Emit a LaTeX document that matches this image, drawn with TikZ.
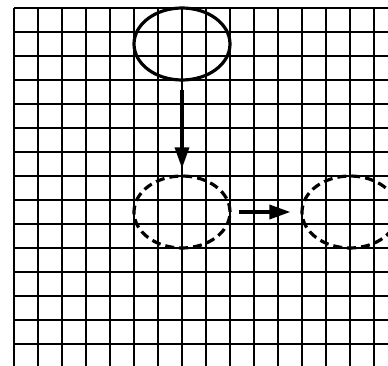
\documentclass[tikz,border=0pt]{standalone}
\usetikzlibrary{shapes.geometric,arrows.meta}
\begin{document}
\begin{tikzpicture}[x=1pt,y=-1pt,
  gridline/.style={line width=1.1pt,black},
  oval/.style={ellipse,draw,line width=3.2pt,minimum width=96pt,minimum height=72pt,inner sep=0pt},
  dashoval/.style={oval,dash pattern=on 9pt off 5pt},
  flow/.style={line width=3.4pt,-{Triangle[length=21pt,width=14pt]}}]
\useasboundingbox (0,0) rectangle (388,366);
\begin{scope}
\clip (0,0) rectangle (388,366);
\foreach \i in {0,...,15} \draw[gridline] (14+24*\i,8) -- (14+24*\i,370);
\foreach \j in {0,...,14} \draw[gridline] (14,8+24*\j) -- (392,8+24*\j);
\node[oval] (a) at (182,44) {};
\node[dashoval] (b) at (182,212) {};
\node[dashoval] (c) at (350,212) {};
\draw[flow,shorten <=8pt,shorten >=6pt] (a) -- (b);
\draw[flow,shorten <=7pt,shorten >=10pt] (b) -- (c);
\end{scope}
\end{tikzpicture}
\end{document}
